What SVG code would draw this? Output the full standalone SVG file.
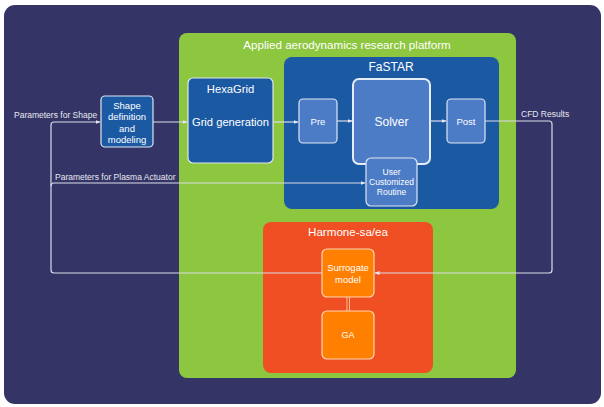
<svg xmlns="http://www.w3.org/2000/svg" width="604" height="407" viewBox="0 0 604 407">
<defs>
<marker id="arr" viewBox="0 0 10 10" refX="9" refY="5" markerWidth="5" markerHeight="5" orient="auto" markerUnits="userSpaceOnUse">
<path d="M0,1 L10,5 L0,9 Z" fill="#e6e6f0"/>
</marker>
<style>
text{font-family:"Liberation Sans",Arial,sans-serif;fill:#ffffff;text-anchor:middle}
.lbl{text-anchor:start;font-size:8.5px;fill:#e8e8f0}
.box{stroke:#dfe6f2;stroke-width:1.2}
.dark{fill:#1b5aa3}
.light{fill:#4d7cc7}
.orange{fill:#ff7f00;stroke:#ffd8b0;stroke-width:1.2}
.conn{fill:none;stroke:#dcdce8;stroke-width:1.2}
</style>
</defs>
<rect x="4" y="5" width="597" height="399" rx="11" fill="#343466"/>
<g id="platform">
<rect x="179" y="33" width="337" height="345" rx="8" fill="#8dc63f"/>
<text x="347" y="49" font-size="11.6">Applied aerodynamics research platform</text>
</g>
<g id="fastar">
<rect x="284" y="57" width="215" height="152" rx="8" fill="#1b5aa3"/>
<text x="391" y="71" font-size="12">FaSTAR</text>
</g>
<g id="harmone">
<rect x="263" y="222" width="170" height="151" rx="8" fill="#f04e23"/>
<text x="348" y="236" font-size="11.6">Harmone-sa/ea</text>
</g>
<g id="shape">
<rect class="box dark" x="101" y="96" width="52" height="51" rx="4"/>
<text font-size="9.5"><tspan x="127" y="108.5">Shape</tspan><tspan x="127" y="120">definition</tspan><tspan x="127" y="131.5">and</tspan><tspan x="127" y="143">modeling</tspan></text>
</g>
<g id="hexagrid">
<rect class="box dark" x="188" y="78" width="85" height="85" rx="5"/>
<text x="230.5" y="93" font-size="11.2">HexaGrid</text>
<text x="230.5" y="126" font-size="11.2">Grid generation</text>
</g>
<g id="pre">
<rect class="box light" x="299" y="99" width="38" height="44" rx="4"/>
<text x="318" y="125" font-size="9.5">Pre</text>
</g>
<g id="solver">
<rect class="light" stroke="#e6ecf6" stroke-width="2" x="353" y="79" width="77" height="85" rx="6"/>
<text x="391.5" y="126" font-size="12">Solver</text>
</g>
<g id="post">
<rect class="box light" x="447" y="99" width="38" height="44" rx="4"/>
<text x="466" y="125" font-size="9.5">Post</text>
</g>
<g id="routine">
<rect class="box light" x="366" y="158" width="51" height="48" rx="5"/>
<text font-size="8.5"><tspan x="391.5" y="175">User</tspan><tspan x="391.5" y="185">Customized</tspan><tspan x="391.5" y="195">Routine</tspan></text>
</g>
<g id="surrogate">
<rect class="orange" x="322" y="249" width="52" height="48" rx="5"/>
<text font-size="9.5"><tspan x="348" y="271">Surrogate</tspan><tspan x="348" y="283">model</tspan></text>
</g>
<g id="ga">
<rect class="orange" x="322" y="311" width="52" height="48" rx="5"/>
<text x="348" y="338" font-size="9">GA</text>
</g>
<g id="connectors">
<path class="conn" d="M153,122 H187" marker-end="url(#arr)"/>
<path class="conn" d="M273,122 H298" marker-end="url(#arr)"/>
<path class="conn" d="M337,121 H352" marker-end="url(#arr)"/>
<path class="conn" d="M430,121 H446" marker-end="url(#arr)"/>
<path class="conn" d="M485,121 H549 Q552,121 552,124 V270 Q552,273 549,273 H375" marker-end="url(#arr)"/>
<path class="conn" d="M322,273 H54 Q51,273 51,270 V125 Q51,122 54,122 H100" marker-end="url(#arr)"/>
<path class="conn" d="M51,186 Q51,183 54,183 H365" marker-end="url(#arr)"/>
<path fill="none" stroke="#ffd8b0" stroke-width="0.8" d="M347,297 V311 M349.5,297 V311"/>
</g>
<g id="labels">
<text class="lbl" x="14" y="118">Parameters for Shape</text>
<text class="lbl" x="55" y="180">Parameters for Plasma Actuator</text>
<text class="lbl" x="521" y="117">CFD Results</text>
</g>
</svg>
